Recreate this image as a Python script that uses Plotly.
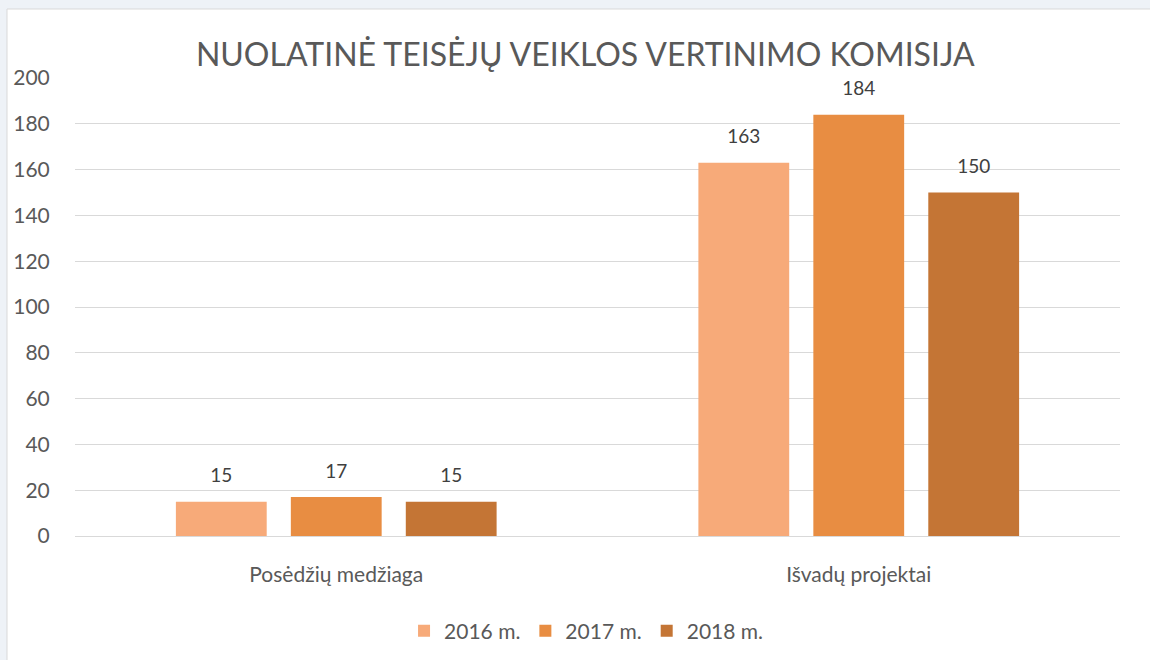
import plotly.graph_objects as go

categories = ["Posėdžių medžiaga", "Išvadų projektai"]
series_names = ["2016 m.", "2017 m.", "2018 m."]
values_2016 = [15, 163]
values_2017 = [17, 184]
values_2018 = [15, 150]
colors = ["#F7AA79", "#E88D42", "#C47535"]
title_text = "NUOLATINĖ TEISĖJŲ VEIKLOS VERTINIMO KOMISIJA"

FONT = "Lato, 'Open Sans', sans-serif"
TXT = "#595959"

fig = go.Figure()
for i, (name, vals, col) in enumerate(zip(series_names, [values_2016, values_2017, values_2018], colors)):
    fig.add_trace(go.Bar(
        x=categories, y=vals, name=name, offsetgroup=str(i),
        marker=dict(color=col, line=dict(width=0)),
    ))
for i, (name, vals) in enumerate(zip(series_names, [values_2016, values_2017, values_2018])):
    fig.add_trace(go.Scatter(
        x=categories, y=vals, mode="markers+text", offsetgroup=str(i),
        text=[str(v) for v in vals], textposition="top center",
        textfont=dict(size=19, color="#404040", family=FONT),
        marker=dict(size=22, opacity=0), showlegend=False, hoverinfo="skip",
        cliponaxis=False,
    ))

fig.update_layout(
    width=1150, height=660,
    margin=dict(l=75, r=30, t=78, b=124, autoexpand=False),
    paper_bgcolor="#EEF2F7",
    plot_bgcolor="rgba(0,0,0,0)",
    barmode="group", bargap=0.34, bargroupgap=0.21,
    scattermode="group", scattergap=0.34,
    title=dict(text=title_text, x=0.509, xanchor="center", y=0.917, yanchor="middle",
               font=dict(size=32, color=TXT, family=FONT)),
    font=dict(family=FONT, color=TXT),
    legend=dict(orientation="h", xref="container", yref="container",
                x=0.5096, xanchor="center", y=1 - 631/660, yanchor="middle",
                font=dict(size=21, color=TXT, family=FONT), traceorder="normal",
                bgcolor="rgba(0,0,0,0)"),
    showlegend=True,
    shapes=[dict(type="rect", xref="paper", yref="paper",
                 x0=-68/1045, x1=1.2, y0=-0.4, y1=1 + 69/458,
                 fillcolor="white", line=dict(color="#D9D9D9", width=1), layer="below")],
)
fig.update_yaxes(range=[0, 200], dtick=20, showgrid=True, gridcolor="#D9D9D9", gridwidth=1,
                 zeroline=True, zerolinecolor="#D9D9D9", zerolinewidth=1, showline=False,
                 tickfont=dict(size=21, color=TXT, family=FONT), ticks="outside", ticklen=20,
                 tickcolor="rgba(0,0,0,0)", automargin=False)
fig.update_xaxes(showline=False, tickfont=dict(size=21, color=TXT, family=FONT),
                 ticks="outside", ticklen=20, tickcolor="rgba(0,0,0,0)", automargin=False)

fig.write_html("out.html", config={"displayModeBar": False},
               post_script="document.body.style.margin='0';document.body.style.overflow='hidden';")
